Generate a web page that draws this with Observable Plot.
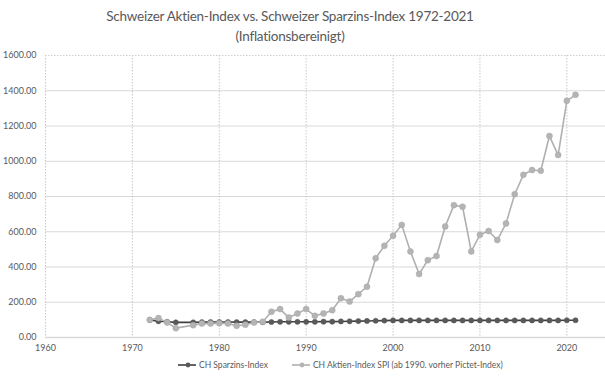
<!DOCTYPE html>
<html>
<head>
<meta charset="utf-8">
<script src="https://cdn.jsdelivr.net/npm/d3@7"></script>
<script src="https://cdn.jsdelivr.net/npm/@observablehq/plot@0.6"></script>
<style>
  html, body { margin: 0; padding: 0; background: #fff; }
  body { width: 605px; height: 383px; overflow: hidden; font-family: Lato, "Open Sans", sans-serif; color: #595959; }
  #title { height: 48px; text-align: center; font-size: 13.5px; letter-spacing: -0.25px; line-height: 20px; padding-top: 6px; box-sizing: border-box; padding-right: 25px; }
  #legend { display: flex; justify-content: flex-start; font-size: 8.5px; margin-top: 3px; padding-left: 178px; }
  #legend span { display: inline-flex; align-items: center; }
  #legend span + span { margin-left: 24px; }
  #legend svg { margin-right: 3px; }
</style>
</head>
<body>
<div id="title">Schweizer Aktien-Index vs. Schweizer Sparzins-Index 1972-2021<br>(Inflationsbereinigt)</div>
<div id="chart"></div>
<div id="legend"></div>
<script>
const years = [1972,1973,1974,1975,1977,1978,1979,1980,1981,1982,1983,1984,1985,1986,1987,1988,1989,1990,1991,1992,1993,1994,1995,1996,1997,1998,1999,2000,2001,2002,2003,2004,2005,2006,2007,2008,2009,2010,2011,2012,2013,2014,2015,2016,2017,2018,2019,2020,2021];
const sparzins = [100,92,89,86,86,87,88,88,88,87,87,87,87,88,89,89,89,89,89,90,90,91,92,93,94,95,96,97,97,97,97,97,97,97,97,97,97,97,97,97,97,97,97,97,97,97,97,98,98];
const aktien = [100,110,85,53,70,79,79,81,79,66,72,85,89,146,161,113,136,161,123,136,155,223,204,246,288,450,520,577,639,488,360,439,462,630,751,742,488,583,604,553,647,813,923,950,946,1143,1035,1343,1377];
const seriesNames = ["CH Sparzins-Index", "CH Aktien-Index SPI (ab 1990. vorher Pictet-Index)"];
const yTicks = [0,200,400,600,800,1000,1200,1400,1600];
const xTicks = [1960,1970,1980,1990,2000,2010,2020];

const dataS = years.map((y,i) => ({year: y, value: sparzins[i]}));
const dataA = years.map((y,i) => ({year: y, value: aktien[i]}));

const darkCol = "#595959", darkLine = "#3f3f3f";
const grayCol = "#b4b4b4", grayLine = "#b0b0b0";

const chart = Plot.plot({
  width: 605,
  height: 309,
  marginTop: 7,
  marginBottom: 20,
  marginLeft: 45,
  marginRight: 0,
  style: {fontFamily: "Lato, 'Open Sans', sans-serif", fontSize: "9px", color: "#595959", background: "#fff"},
  x: {domain: [1960, 2024.45], ticks: xTicks, tickFormat: d => String(d), tickSize: 0, tickPadding: 7, label: null},
  y: {domain: [0, 1600], ticks: yTicks, tickFormat: d3.format(".2f"), tickSize: 0, tickPadding: 9, label: null},
  marks: [
    Plot.gridY(yTicks.filter(d => d > 0 && d < 1600), {stroke: "#d9d9d9", strokeOpacity: 1, strokeWidth: 1}),
    Plot.gridY([1600], {stroke: "#d0d0d0", strokeOpacity: 1, strokeDasharray: "1.5,1.5"}),
    Plot.gridX(xTicks, {stroke: "#c8c8c8", strokeOpacity: 1, strokeDasharray: "1.5,1.5"}),
    Plot.ruleY([0], {stroke: "#d9d9d9", strokeWidth: 1.5}),
    Plot.axisX({ticks: xTicks, tickFormat: d => String(d), tickSize: 0, tickPadding: 7, fill: "#595959"}),
    Plot.axisY({ticks: yTicks, tickFormat: d3.format(".2f"), tickSize: 0, tickPadding: 9, fill: "#595959"}),
    Plot.line(dataS, {x: "year", y: "value", stroke: darkLine, strokeWidth: 1.6}),
    Plot.dot(dataS, {x: "year", y: "value", r: 2.6, fill: darkCol, stroke: darkCol, strokeWidth: 0.5}),
    Plot.line(dataA, {x: "year", y: "value", stroke: grayLine, strokeWidth: 1.6}),
    Plot.dot(dataA, {x: "year", y: "value", r: 3, fill: grayCol, stroke: "#a8a8a8", strokeWidth: 0.5})
  ]
});
document.getElementById("chart").appendChild(chart);

const legend = document.getElementById("legend");
const styles = [[darkLine, darkCol], [grayLine, grayCol]];
seriesNames.forEach((name, i) => {
  const span = document.createElement("span");
  const [lc, mc] = styles[i];
  span.innerHTML = `<svg width="18" height="8"><line x1="0" y1="4" x2="18" y2="4" stroke="${lc}" stroke-width="1.6"/><circle cx="10" cy="4" r="2.4" fill="${mc}"/></svg>`;
  span.appendChild(document.createTextNode(name));
  legend.appendChild(span);
});
</script>
</body>
</html>
